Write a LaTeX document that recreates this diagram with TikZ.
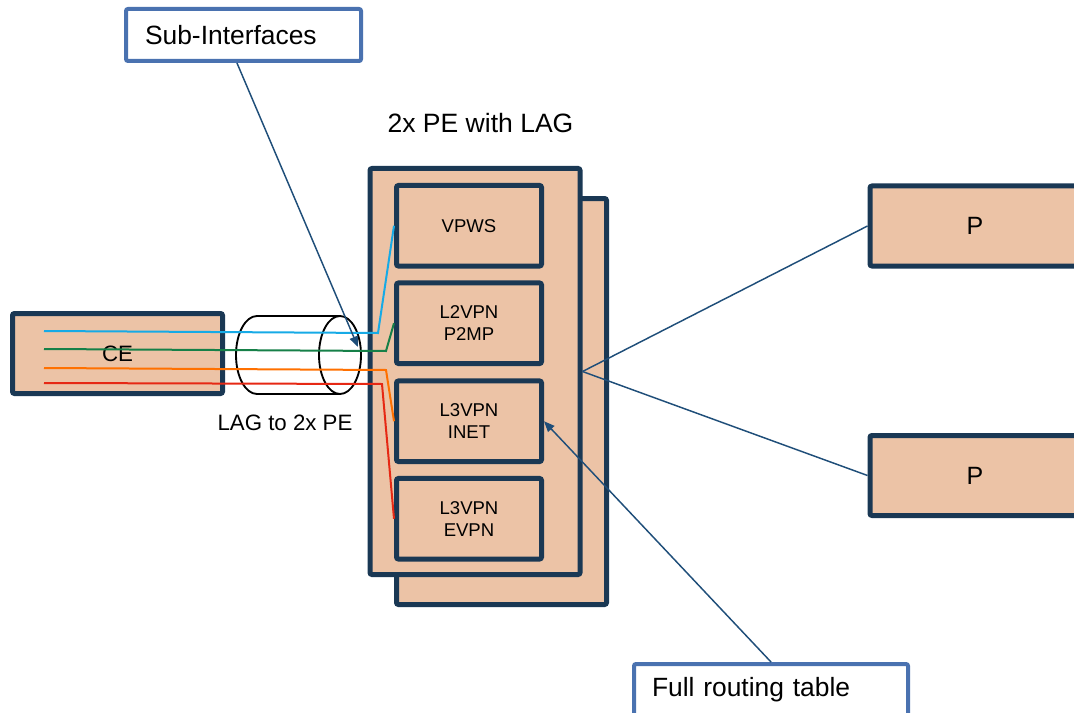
\documentclass[tikz,border=0pt]{standalone}
\usepackage{fontspec}
\setmainfont{Liberation Sans}
\usetikzlibrary{arrows.meta}
\definecolor{peach}{RGB}{236,195,166}
\definecolor{navy}{RGB}{26,56,84}
\definecolor{calloutblue}{RGB}{74,114,176}
\definecolor{linkblue}{RGB}{31,78,121}
\definecolor{cblue}{RGB}{22,170,230}
\definecolor{cgreen}{RGB}{22,128,72}
\definecolor{corange}{RGB}{255,112,0}
\definecolor{cred}{RGB}{230,40,20}
\begin{document}
\begin{tikzpicture}[x=0.75pt,y=-0.75pt,
  box/.style={draw=navy,fill=peach,line width=3.75pt,rounded corners=1.5pt,inner sep=0pt},
  bigbox/.style={box,minimum width=157.5pt,minimum height=304.5pt},
  svcbox/.style={box,minimum width=108.75pt,minimum height=60.4pt,align=center,font=\fontsize{13.9}{16.8}\selectfont},
  pbox/.style={box,minimum width=157.5pt,minimum height=60pt,font=\fontsize{18.75}{22}\selectfont},
  callout/.style={draw=calloutblue,line width=3pt,fill=white,rounded corners=1.5pt,inner ysep=0pt,align=left,font=\fontsize{19.8}{24}\selectfont},
  conn/.style={draw=linkblue,line width=1.1pt},
  arrowconn/.style={conn,-{Triangle[length=8pt,width=6.5pt]}},
  cable/.style={line width=1.5pt},
  cyl/.style={draw=black,line width=1.4pt},
  plain/.style={inner sep=0pt}
]
\useasboundingbox (0,0) rectangle (1074,713);
\clip (0,0) rectangle (1074,713);

% callouts
\node[callout,minimum height=39pt,text width=147.75pt,inner xsep=14.25pt] (sub) at (243.5,35) {Sub-Interfaces};
\node[callout,minimum height=39pt,text width=178.5pt,inner xsep=13.5pt] (frt) at (771,690) {Full routing table};

% title
\node[plain,anchor=base,font=\fontsize{19.9}{24}\selectfont] (title) at (480.5,133) {2x PE with LAG};

% CE
\node[box,minimum width=157.5pt,minimum height=60pt,font=\fontsize{16.7}{20}\selectfont] (ce) at (117.5,353.5) {CE};

% PE boxes
\node[bigbox] (peback) at (501.5,401.5) {};
\node[bigbox] (pefront) at (475,371.5) {};
\node[svcbox] (vpws) at (469,225.75) {VPWS};
\node[svcbox] (l2) at (469,323.25) {L2VPN\\P2MP};
\node[svcbox] (inet) at (469,421.25) {L3VPN\\INET};
\node[svcbox] (evpn) at (469,518.75) {L3VPN\\EVPN};

% P boxes
\node[pbox] (p1) at (975,226) {P};
\node[pbox] (p2) at (975,475.5) {P};

% LAG cylinder
\draw[cyl] (340,316) -- (257,316) arc[start angle=90,end angle=270,x radius=15.75pt,y radius=29.25pt]
  -- (340,394);
\draw[cyl] (340,355) ellipse [x radius=15.75pt,y radius=29.25pt];
\node[plain,anchor=base,font=\fontsize{16.7}{20}\selectfont] (lag) at (285,430) {LAG to 2x PE};

% cables (sub-interfaces)
\coordinate (b0) at (44,331);
\coordinate (g0) at (44,349);
\coordinate (o0) at (44,368);
\coordinate (r0) at (44,383);
\draw[cable,cblue] (b0) -- (378,333) -- (vpws.west);
\draw[cable,cgreen] (g0) -- (386,351) -- (l2.west);
\draw[cable,corange] (o0) -- (386,370) -- (inet.west);
\draw[cable,cred] (r0) -- (382,384) -- (evpn.west);

% connectors
\draw[conn] (pefront.east) -- (p1.west);
\draw[conn] (pefront.east) -- (p2.west);
\coordinate (subtip) at (358,347);
\draw[arrowconn] ([xshift=-4.9pt]sub.south) -- (subtip);
\draw[arrowconn] (frt.north) -- (inet.east);
\end{tikzpicture}
\end{document}
